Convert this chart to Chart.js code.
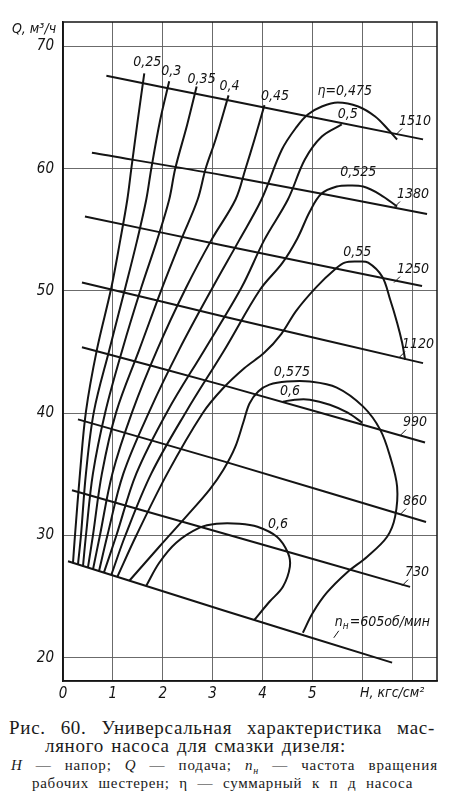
<!DOCTYPE html>
<html>
<head>
<meta charset="utf-8">
<script src="https://cdn.jsdelivr.net/npm/chart.js@4.4.1/dist/chart.umd.min.js"></script>
<style>
    html, body { margin: 0; padding: 0; background: #fff; }
    #wrap { position: relative; width: 450px; height: 705px; }
    .cap { position: absolute; font-family: "Liberation Serif", "DejaVu Serif", serif; color: #1a1a1a; white-space: nowrap; }
    .l1 { left: 9px; top: 717px; width: 426px; font-size: 19px; letter-spacing: 0.7px; text-align: justify; text-align-last: justify; white-space: normal; }
    .l2 { left: 45px; top: 735px; font-size: 19px; letter-spacing: 0.7px; word-spacing: 2px; }
    .l3 { left: 11px; top: 757px; width: 427px; font-size: 15px; letter-spacing: 0.9px; text-align: justify; text-align-last: justify; white-space: normal; }
    .l4 { left: 32px; top: 775px; width: 381px; font-size: 15px; letter-spacing: 0.7px; text-align: justify; text-align-last: justify; white-space: normal; }
    i { font-style: italic; }
    sub { font-size: 10px; font-style: italic; }
</style>
</head>
<body>
<div id="wrap"><canvas id="chart" width="450" height="705"></canvas></div>
<div class="cap l1">Рис. 60. Универсальная характеристика мас-</div>
<div class="cap l2">ляного насоса для смазки дизеля:</div>
<div class="cap l3"><i>H</i> — напор; <i>Q</i> — подача; <i>n</i><sub>н</sub> — частота вращения</div>
<div class="cap l4">рабочих шестерен; η — суммарный к п д насоса</div>
<script>
// оси
const xTicks = [0, 1, 2, 3, 4, 5, 6, 7];
const xTickLabels = ["0", "1", "2", "3", "4", "5", "", ""];
const yTicks = [20, 30, 40, 50, 60, 70];
const yTickLabels = ["20", "30", "40", "50", "60", "70"];

// линии постоянной частоты вращения n_н, об/мин : [H, Q]
const speedNames = ["1510", "1380", "1250", "1120", "990", "860", "730", "605"];
const n1510 = [[0.87, 67.6], [3.24, 65.66], [7.22, 62.4]];
const n1380 = [[0.58, 61.3], [3.24, 59.44], [7.30, 56.3]];
const n1250 = [[0.44, 56.1], [3.24, 53.7], [7.20, 50.4]];
const n1120 = [[0.38, 50.7], [3.24, 47.9], [7.22, 44.1]];
const n990 = [[0.38, 45.4], [3.24, 42.26], [7.26, 37.6]];
const n860 = [[0.30, 39.5], [3.24, 36.04], [7.28, 31.1]];
const n730 = [[0.18, 33.7], [3.24, 30.15], [6.96, 25.8]];
const n605 = [[0.10, 27.9], [3.24, 23.85], [6.60, 19.6]];

// линии постоянного кпд η : [H, Q]
const eta025 = [[0.20, 27.73], [0.24, 30.0], [0.34, 35.06], [0.46, 40.13], [0.68, 45.2], [0.97, 50.28], [1.15, 54.2], [1.29, 57.48], [1.37, 60.0], [1.50, 64.0], [1.63, 67.8]];
const eta030 = [[0.30, 27.61], [0.36, 30.0], [0.46, 35.06], [0.62, 40.13], [0.93, 45.2], [1.25, 50.28], [1.49, 54.2], [1.67, 57.48], [1.77, 60.0], [1.95, 64.0], [2.13, 67.15]];
const eta035 = [[0.40, 27.45], [0.46, 30.0], [0.60, 35.06], [0.85, 40.13], [1.19, 45.2], [1.57, 50.28], [1.89, 54.2], [2.13, 57.48], [2.25, 60.0], [2.49, 63.6], [2.68, 66.73]];
const eta040 = [[0.50, 27.37], [0.60, 30.0], [0.78, 35.06], [1.07, 40.13], [1.53, 45.2], [1.99, 50.28], [2.37, 54.2], [2.70, 57.48], [2.86, 60.0], [3.06, 62.39], [3.32, 66.0]];
const eta045 = [[0.60, 27.20], [0.74, 30.0], [0.99, 35.06], [1.39, 40.13], [1.89, 45.2], [2.47, 50.28], [2.98, 54.2], [3.46, 57.48], [3.66, 60.0], [3.84, 62.39], [4.04, 65.2]];
const eta0475 = [[0.72, 27.04], [0.89, 30.0], [1.21, 35.06], [1.73, 40.13], [2.33, 45.2], [3.00, 50.28], [3.54, 54.2], [3.98, 57.48], [4.39, 61.57], [4.69, 63.45], [4.91, 64.44], [5.19, 65.09], [5.51, 65.42], [5.92, 65.09], [6.26, 64.27], [6.52, 63.21], [6.70, 62.39]];
const eta050 = [[0.82, 26.96], [1.07, 30.0], [1.47, 35.06], [2.09, 40.13], [2.84, 45.2], [3.58, 50.28], [4.04, 54.2], [4.51, 57.48], [4.85, 60.75], [5.19, 62.63], [5.59, 63.62]];
const eta0525 = [[0.97, 26.79], [1.25, 30.0], [1.77, 35.06], [2.47, 40.13], [3.24, 45.2], [3.95, 50.1], [4.40, 52.3], [4.70, 54.3], [4.95, 56.5], [5.18, 57.95], [5.49, 58.54], [5.75, 58.63], [6.02, 58.54], [6.36, 57.89], [6.70, 56.91]];
const eta055 = [[1.09, 26.63], [1.47, 30.0], [2.09, 35.06], [2.80, 40.0], [3.20, 42.0], [3.64, 43.7], [4.04, 44.96], [4.38, 46.5], [4.68, 48.4], [5.09, 50.36], [5.45, 51.75], [5.65, 52.32], [5.92, 52.41], [6.12, 52.32], [6.40, 51.18], [6.56, 49.30], [6.70, 47.41], [6.80, 45.78], [6.86, 44.39]];
const eta0575 = [[1.33, 26.30], [1.93, 29.08], [2.47, 31.54], [2.94, 33.75], [3.22, 35.4], [3.45, 37.2], [3.62, 39.3], [3.74, 40.8], [3.92, 41.8], [4.14, 42.34], [4.49, 42.59], [4.95, 42.59], [5.49, 42.1], [6.02, 40.54], [6.36, 38.66], [6.56, 36.45], [6.70, 34.0], [6.66, 31.54], [6.50, 29.9], [6.10, 28.27], [5.69, 26.96], [5.29, 25.32], [5.01, 23.68], [4.81, 22.05]];
const eta060a = [[4.41, 40.95], [4.65, 41.11], [4.95, 41.11], [5.35, 40.70], [5.71, 40.05], [6.00, 39.23]];
const eta060b = [[1.67, 25.89], [1.93, 27.77], [2.27, 29.41], [2.74, 30.64], [3.08, 30.97], [3.54, 30.97], [3.90, 30.72], [4.29, 29.9], [4.51, 28.59], [4.55, 27.45], [4.41, 25.81], [4.14, 24.58], [3.84, 23.11]];

// подписи
const etaLabels = ["0,25", "0,3", "0,35", "0,4", "0,45", "η=0,475", "0,5", "0,525", "0,55", "0,575", "0,6", "0,6"];
const etaLabelAt = [[1.69, 68.7], [2.17, 67.95], [2.78, 67.3], [3.34, 66.73], [4.25, 65.9], [5.65, 66.3], [5.71, 64.44], [5.92, 59.69], [5.90, 53.14], [4.59, 43.32], [4.55, 41.77], [4.31, 30.88]];
const speedLabelAt = [[7.06, 63.86], [7.02, 57.89], [7.02, 51.75], [7.12, 45.61], [7.06, 39.23], [7.06, 32.77], [7.10, 26.96], [5.45, 22.86]];

const FAMILY = '"Liberation Sans Narrow", "DejaVu Sans Condensed", "Liberation Sans", sans-serif';
const INK = "#141414";

function curve (arr, width, tension) {
    return {
        data: arr.map(p => ({ x: p[0], y: p[1] })),
        showLine: true,
        borderColor: INK,
        borderWidth: width,
        pointRadius: 0,
        fill: false,
        tension: tension,
    };
}

const overlay = {
    id: "overlay",
    afterDatasetsDraw (chart) {
        const { ctx, chartArea: a, scales: { x, y } } = chart;
        ctx.save();
        ctx.strokeStyle = INK;
        ctx.lineWidth = 1.5;
        ctx.strokeRect(a.left, a.top, a.right - a.left, a.bottom - a.top);

        ctx.fillStyle = INK;
        ctx.font = "italic 14px " + FAMILY;
        ctx.textAlign = "center";
        ctx.textBaseline = "middle";
        etaLabels.forEach((t, i) => {
            ctx.fillText(t, x.getPixelForValue(etaLabelAt[i][0]), y.getPixelForValue(etaLabelAt[i][1]));
        });

        ctx.lineWidth = 1;
        speedNames.forEach((t, i) => {
            const px = x.getPixelForValue(speedLabelAt[i][0]);
            const py = y.getPixelForValue(speedLabelAt[i][1]);
            if (t === "605") {
                ctx.textAlign = "left";
                ctx.font = "italic 14px " + FAMILY;
                ctx.fillText("n", px, py);
                let w = ctx.measureText("n").width;
                ctx.font = "italic 10px " + FAMILY;
                ctx.fillText("н", px + w, py + 4);
                w += ctx.measureText("н").width;
                ctx.font = "italic 14px " + FAMILY;
                ctx.fillText("=605об/мин", px + w + 1, py);
                ctx.beginPath();
                ctx.moveTo(px + 4, py + 8);
                ctx.lineTo(px - 1, py + 15);
                ctx.stroke();
                ctx.textAlign = "center";
            } else {
                ctx.fillText(t, px, py);
                const w = ctx.measureText(t).width;
                ctx.beginPath();
                ctx.moveTo(px - w / 2 + 3, py + 7);
                ctx.lineTo(px - w / 2 - 3, py + 13);
                ctx.stroke();
            }
        });

        ctx.font = "italic 14px " + FAMILY;
        ctx.textAlign = "center";
        ctx.fillText("Q, м³/ч", a.left - 29, a.top + 7);
        ctx.fillText("H, кгс/см²", x.getPixelForValue(6.6), a.bottom + 12);
        ctx.restore();
    },
};

new Chart(document.getElementById("chart"), {
    type: "scatter",
    data: {
        datasets: [
            curve(n1510, 2, 0.3), curve(n1380, 2, 0.3), curve(n1250, 2, 0.3), curve(n1120, 2, 0.3),
            curve(n990, 2, 0.3), curve(n860, 2, 0.3), curve(n730, 2, 0.3), curve(n605, 2, 0.3),
            curve(eta025, 2, 0.35), curve(eta030, 2, 0.35), curve(eta035, 2, 0.35), curve(eta040, 2, 0.35),
            curve(eta045, 2, 0.35), curve(eta0475, 2, 0.35), curve(eta050, 2, 0.35), curve(eta0525, 2, 0.35),
            curve(eta055, 2, 0.35), curve(eta0575, 2, 0.35), curve(eta060a, 2, 0.35), curve(eta060b, 2, 0.35),
        ],
    },
    options: {
        responsive: false,
        animation: false,
        events: [],
        layout: { padding: { top: 22, right: 13, left: 0, bottom: 0 } },
        plugins: { legend: { display: false }, tooltip: { enabled: false } },
        scales: {
            x: {
                type: "linear",
                min: 0,
                max: 7.5,
                afterBuildTicks: s => { s.ticks = xTicks.map(v => ({ value: v })); },
                afterFit: s => { s.height = 24; },
                ticks: {
                    autoSkip: false,
                    maxRotation: 0,
                    padding: 4,
                    color: INK,
                    font: { family: FAMILY, size: 15, style: "italic" },
                    callback: (v, i) => xTickLabels[i],
                },
                grid: { color: "#5a5a5a", lineWidth: 0.9, drawTicks: false },
                border: { color: INK, width: 1.5 },
            },
            y: {
                type: "linear",
                min: 18.1,
                max: 72,
                afterBuildTicks: s => { s.ticks = yTicks.map(v => ({ value: v })); },
                afterFit: s => { s.width = 63; },
                ticks: {
                    padding: 9,
                    color: INK,
                    font: { family: FAMILY, size: 15, style: "italic" },
                    callback: (v, i) => yTickLabels[i],
                },
                grid: { color: "#5a5a5a", lineWidth: 0.9, drawTicks: false },
                border: { color: INK, width: 1.5 },
            },
        },
    },
    plugins: [overlay],
});
</script>
</body>
</html>
